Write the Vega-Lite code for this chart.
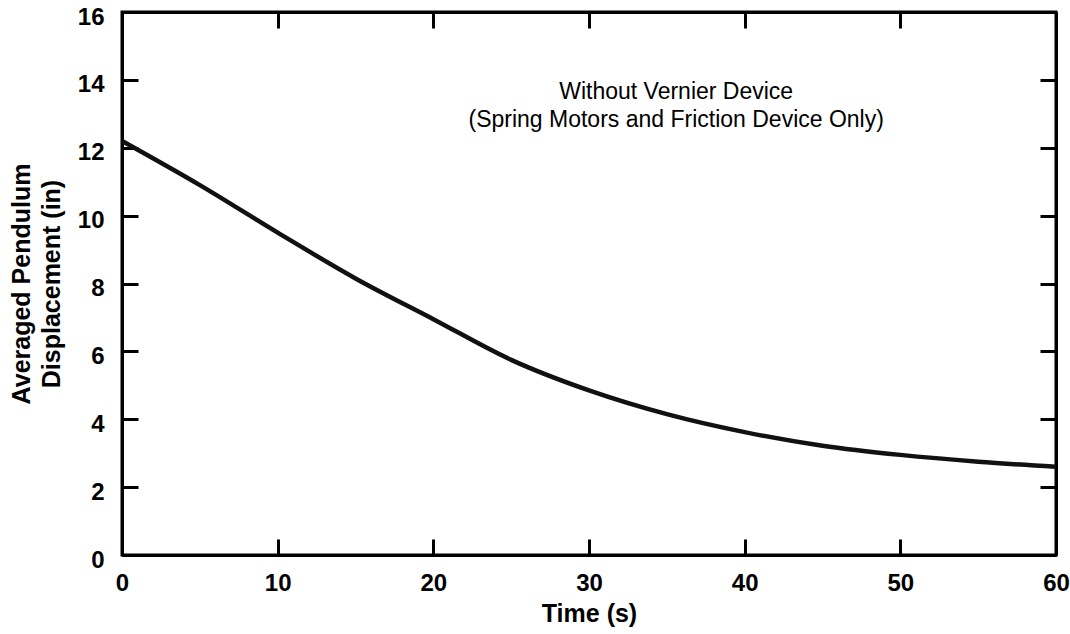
{
  "$schema": "https://vega.github.io/schema/vega-lite/v6.json",
  "width": 934,
  "height": 543,
  "autosize": "none",
  "padding": {"left": 122, "top": 12, "right": 14, "bottom": 79},
  "background": "white",
  "config": {
    "font": "Liberation Sans",
    "view": {"stroke": "black", "strokeWidth": 3},
    "axis": {
      "domainColor": "black",
      "domainWidth": 3,
      "tickColor": "black",
      "tickWidth": 3,
      "tickSize": -16,
      "grid": false,
      "labelFont": "Liberation Sans",
      "labelFontSize": 24,
      "labelFontWeight": "bold",
      "labelColor": "black",
      "titleFont": "Liberation Sans",
      "titleFontSize": 25,
      "titleFontWeight": "bold",
      "titleColor": "black"
    }
  },
  "datasets": {
    "curve": [
      {"t": 0, "v": 12.2},
      {"t": 5, "v": 10.9},
      {"t": 10, "v": 9.5},
      {"t": 15, "v": 8.15},
      {"t": 20, "v": 6.95},
      {"t": 25, "v": 5.75},
      {"t": 30, "v": 4.85},
      {"t": 35, "v": 4.15},
      {"t": 40, "v": 3.62},
      {"t": 45, "v": 3.22},
      {"t": 50, "v": 2.95},
      {"t": 55, "v": 2.75},
      {"t": 60, "v": 2.6}
    ],
    "note": [
      {"t": 35.6, "v": 13.64, "lines": ["Without Vernier Device", "(Spring Motors and Friction Device Only)"]}
    ]
  },
  "layer": [
    {
      "data": {"name": "curve"},
      "mark": {"type": "line", "color": "#111111", "strokeWidth": 4.5, "interpolate": "monotone"},
      "encoding": {
        "x": {
          "field": "t", "type": "quantitative",
          "scale": {"domain": [0, 60], "nice": false},
          "axis": {"orient": "bottom", "values": [0, 10, 20, 30, 40, 50, 60], "labelFlush": false, "labelPadding": 32, "title": "Time (s)", "titlePadding": 6}
        },
        "y": {
          "field": "v", "type": "quantitative",
          "scale": {"domain": [0, 16], "nice": false},
          "axis": {"orient": "left", "values": [0, 2, 4, 6, 8, 10, 12, 14, 16], "labelPadding": 34, "labelOffset": 5, "labelFlush": false, "title": ["Averaged Pendulum", "Displacement (in)"], "titleLineHeight": 30, "titlePadding": 13}
        }
      }
    },
    {
      "data": {"name": "curve"},
      "mark": {"type": "line", "opacity": 0},
      "encoding": {
        "x": {
          "field": "t", "type": "quantitative",
          "axis": {"orient": "top", "values": [0, 10, 20, 30, 40, 50, 60], "labels": false, "title": null}
        },
        "y": {
          "field": "v", "type": "quantitative",
          "axis": {"orient": "right", "values": [0, 2, 4, 6, 8, 10, 12, 14, 16], "labels": false, "title": null}
        }
      }
    },
    {
      "data": {"name": "note"},
      "mark": {"type": "text", "font": "Liberation Sans", "fontSize": 23, "lineHeight": 28, "align": "center", "baseline": "middle", "color": "black"},
      "encoding": {
        "x": {"field": "t", "type": "quantitative", "axis": null},
        "y": {"field": "v", "type": "quantitative", "axis": null},
        "text": {"field": "lines"}
      }
    }
  ],
  "resolve": {"axis": {"x": "independent", "y": "independent"}}
}
